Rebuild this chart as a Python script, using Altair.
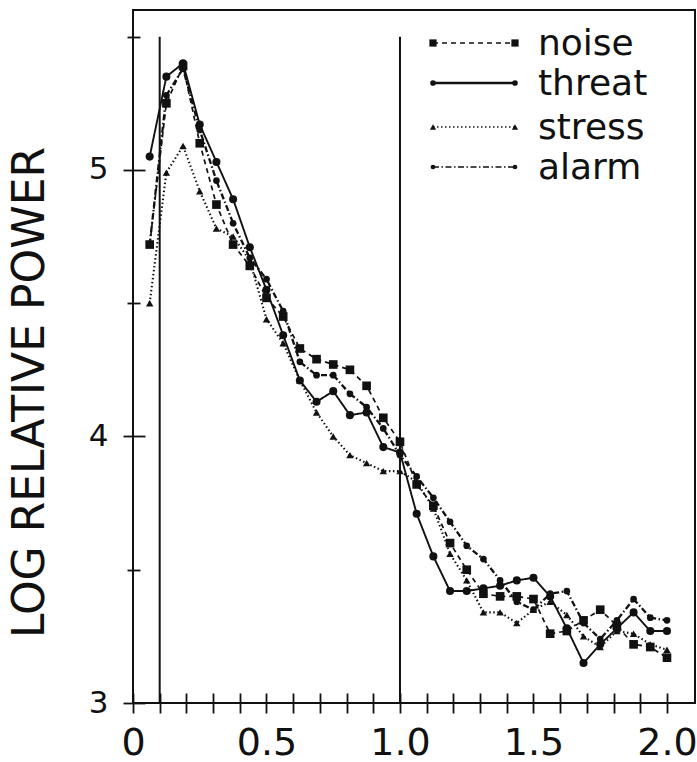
import altair as alt
import pandas as pd

# ---- data ----
freq = [0.0625, 0.125, 0.1875, 0.25, 0.3125, 0.375, 0.4375, 0.5,
        0.5625, 0.625, 0.6875, 0.75, 0.8125, 0.875, 0.9375, 1.0,
        1.0625, 1.125, 1.1875, 1.25, 1.3125, 1.375, 1.4375, 1.5,
        1.5625, 1.625, 1.6875, 1.75, 1.8125, 1.875, 1.9375, 2.0]

noise = [4.72, 5.25, 5.39, 5.10, 4.87, 4.72, 4.64, 4.52, 4.45, 4.33, 4.29, 4.27, 4.25, 4.19, 4.07, 3.98,
         3.82, 3.74, 3.60, 3.50, 3.41, 3.40, 3.40, 3.39, 3.26, 3.27, 3.31, 3.35, 3.29, 3.22, 3.21, 3.17]
threat = [5.05, 5.35, 5.40, 5.17, 5.03, 4.89, 4.71, 4.55, 4.38, 4.21, 4.13, 4.17, 4.08, 4.09, 3.96, 3.94,
          3.71, 3.55, 3.42, 3.42, 3.43, 3.44, 3.46, 3.47, 3.40, 3.28, 3.15, 3.22, 3.28, 3.34, 3.27, 3.27]
stress = [4.50, 4.99, 5.09, 4.92, 4.78, 4.75, 4.66, 4.44, 4.35, 4.21, 4.09, 4.00, 3.93, 3.90, 3.87, 3.87,
          3.83, 3.73, 3.56, 3.46, 3.34, 3.34, 3.30, 3.35, 3.38, 3.33, 3.25, 3.21, 3.27, 3.26, 3.22, 3.20]
alarm = [4.72, 5.28, 5.38, 5.15, 4.96, 4.80, 4.67, 4.59, 4.47, 4.28, 4.23, 4.23, 4.16, 4.11, 4.03, 3.93,
         3.85, 3.77, 3.68, 3.59, 3.54, 3.46, 3.38, 3.35, 3.41, 3.42, 3.30, 3.24, 3.31, 3.39, 3.32, 3.31]

series_names = ["noise", "threat", "stress", "alarm"]
series_values = [noise, threat, stress, alarm]

vline_freq = [0.1, 1.0]
vline_bottom = [3.0, 3.0]
vline_top = [5.5, 5.5]

x_ticks = [0, 0.1, 0.2, 0.3, 0.4, 0.5, 0.6, 0.7, 0.8, 0.9, 1.0,
           1.1, 1.2, 1.3, 1.4, 1.5, 1.6, 1.7, 1.8, 1.9, 2.0]
y_major = [3, 4, 5]
y_minor = [3.5, 4.5, 5.5]

# ---- styles ----
FONT = "DejaVu Sans"
INK = "#111111"
dash_range = [[5, 4], [1, 0], [1.5, 2.5], [6, 2.5, 1.5, 2.5]]
width_range = [1.7, 2.3, 1.7, 1.7]
shape_range = ["square", "circle", "triangle-up", "circle"]
size_range = [75, 45, 55, 32]

rows = []
for name, vals in zip(series_names, series_values):
    for f, v in zip(freq, vals):
        rows.append({"freq": f, "power": v, "series": name})
df = pd.DataFrame(rows)

xscale = alt.Scale(domain=[0, 2.105], nice=False, zero=False)
yscale = alt.Scale(domain=[3, 5.6], nice=False, zero=False)

x_axis = alt.Axis(
    values=x_ticks, tickSize=20, offset=-10, domain=False, grid=False,
    tickColor=INK, tickWidth=1.8, labelFontSize=38, labelFont=FONT,
    labelColor=INK, labelPadding=11, labelFlush=False, labelOverlap=False,
    labelExpr="datum.value == 0 ? '0' : ((datum.value == 0.5 || datum.value == 1 || datum.value == 1.5 || datum.value == 2) ? format(datum.value, '.1f') : '')",
    title="",
)
X = alt.X("freq:Q", scale=xscale, axis=x_axis)

y_axis_major = alt.Axis(
    values=y_major, tickSize=22, offset=-12, domain=False, grid=False,
    tickColor=INK, tickWidth=1.8, labelFontSize=31, labelFont=FONT,
    labelColor=INK, labelPadding=15, labelFlush=False, format="d",
    title="LOG RELATIVE POWER", titleFontSize=44, titleFont=FONT,
    titleFontWeight="normal", titleColor=INK, titlePadding=36, titleY=382,
    orient="left",
)
y_axis_minor = alt.Axis(
    values=y_minor, tickSize=13, offset=-7, domain=False, grid=False,
    tickColor=INK, tickWidth=1.8, labels=False, title="", orient="left",
)

enc_common = dict(
    strokeDash=alt.StrokeDash("series:N", scale=alt.Scale(domain=series_names, range=dash_range), legend=None),
    strokeWidth=alt.StrokeWidth("series:N", scale=alt.Scale(domain=series_names, range=width_range), legend=None),
)

lines = alt.Chart(df).mark_line(color=INK).encode(
    x=X,
    y=alt.Y("power:Q", scale=yscale, axis=y_axis_major),
    detail="series:N",
    **enc_common,
)
points = alt.Chart(df).mark_point(filled=True, color=INK, opacity=1).encode(
    x=X,
    y=alt.Y("power:Q", scale=yscale, axis=y_axis_major),
    shape=alt.Shape("series:N", scale=alt.Scale(domain=series_names, range=shape_range), legend=None),
    size=alt.Size("series:N", scale=alt.Scale(domain=series_names, range=size_range), legend=None),
)
data_layer = alt.layer(lines, points)

vdf = pd.DataFrame({"freq": vline_freq, "y0": vline_bottom, "y1": vline_top})
rules = alt.Chart(vdf).mark_rule(color=INK, strokeWidth=2).encode(
    x=X,
    y=alt.Y("y0:Q", scale=yscale, axis=y_axis_minor),
    y2="y1:Q",
)

# ---- custom legend (upper right) ----
legend_rows = [33, 73, 117, 157]
legend_layers = []
for i, (name, ry) in enumerate(zip(series_names, legend_rows)):
    ldf = pd.DataFrame({"s": [name]})
    base = alt.Chart(ldf)
    legend_layers.append(
        base.mark_rule(color=INK, strokeDash=dash_range[i], strokeWidth=width_range[i]).encode(
            x=alt.value(300), x2=alt.value(382), y=alt.value(ry))
    )
    for px in (300, 382):
        legend_layers.append(
            base.mark_point(filled=True, color=INK, opacity=1, shape=shape_range[i],
                            size=size_range[i] * 0.7).encode(x=alt.value(px), y=alt.value(ry))
        )
    legend_layers.append(
        base.mark_text(align="left", baseline="middle", fontSize=36, font=FONT, color=INK).encode(
            x=alt.value(405), y=alt.value(ry + 1), text="s:N")
    )

chart = (
    alt.layer(data_layer, rules, *legend_layers)
    .resolve_axis(y="independent")
    .properties(
        width=562, height=693,
        autosize=alt.AutoSizeParams(type="none"),
        padding={"left": 133, "top": 10, "right": 2, "bottom": 59},
        background="white",
    )
    .configure_view(stroke=INK, strokeWidth=2)
)

chart.save("out.html", embed_options={"renderer": "svg", "actions": False})
